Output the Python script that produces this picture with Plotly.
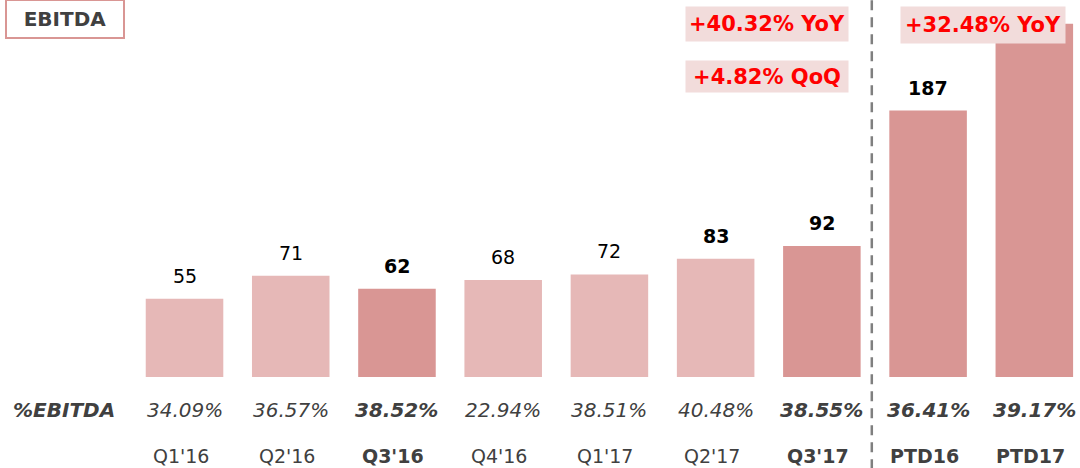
import plotly.graph_objects as go

# ---- data ----
categories = ["Q1'16", "Q2'16", "Q3'16", "Q4'16", "Q1'17", "Q2'17", "Q3'17", "PTD16", "PTD17"]
ebitda = [55, 71, 62, 68, 72, 83, 92, 187, 248]
margin_pct = ["34.09%", "36.57%", "38.52%", "22.94%", "38.51%", "40.48%", "38.55%", "36.41%", "39.17%"]
highlight = [False, False, True, False, False, False, True, True, True]
bold_value = [False, False, True, False, False, True, True, True, False]
show_value = [True, True, True, True, True, True, True, True, False]
growth_notes = ["+40.32% YoY", "+4.82% QoQ", "+32.48% YoY"]

LIGHT = "#E6B8B7"
DARK = "#D99694"
GRAY = "#404040"
FONT = "DejaVu Sans"

x_idx = list(range(len(categories)))

fig = go.Figure()
fig.add_trace(go.Bar(
    x=x_idx, y=ebitda,
    marker=dict(color=[DARK if h else LIGHT for h in highlight], line=dict(width=0)),
    width=0.73,
    hoverinfo="skip",
))

annotations = []
# value labels
for i, v in enumerate(ebitda):
    if not show_value[i]:
        continue
    annotations.append(dict(
        x=i, y=v, xref="x", yref="y", text=(f"<b>{v}</b>" if bold_value[i] else str(v)),
        showarrow=False, yanchor="bottom", yshift=10,
        font=dict(family=FONT, size=19, color="#000000"),
    ))
# percent row
for i, p in enumerate(margin_pct):
    annotations.append(dict(
        x=i, y=-0.0875, xref="x", yref="paper", text=(f"<b>{p}</b>" if highlight[i] else p),
        showarrow=False, yanchor="middle",
        font=dict(family=FONT, size=20, color=GRAY, style="italic"),
    ))
annotations.append(dict(
    x=64 / 1080, y=-0.0875, xref="paper", yref="paper", text="<b>%EBITDA</b>",
    showarrow=False, yanchor="middle", xanchor="center",
    font=dict(family=FONT, size=20, color=GRAY, style="italic"),
))
# category row
for i, c in enumerate(categories):
    annotations.append(dict(
        x=i, y=-0.2095, xref="x", yref="paper", text=(f"<b>{c}</b>" if highlight[i] else c),
        showarrow=False, yanchor="middle", xshift=-4,
        font=dict(family=FONT, size=19, color=GRAY),
    ))
# title box
annotations.append(dict(
    x=65 / 1080, y=(377 - 19) / 377, xref="paper", yref="paper", text="<b>EBITDA</b>",
    showarrow=False, xanchor="center", yanchor="middle",
    width=116, height=36, bordercolor=DARK, borderwidth=2, borderpad=0, bgcolor="white",
    font=dict(family=FONT, size=20, color=GRAY),
))
# growth notes
note_pos = [(767, 24, 162, 34), (767, 76.5, 162, 31), (983, 25, 164, 36)]
for t, (px, py, w, h) in zip(growth_notes, note_pos):
    annotations.append(dict(
        x=px / 1080, y=(377 - py) / 377, xref="paper", yref="paper", text=f"<b>{t}</b>",
        showarrow=False, xanchor="center", yanchor="middle",
        width=w, height=h, bgcolor="#F2DCDB", borderpad=0,
        font=dict(family=FONT, size=21, color="#FF0000"),
    ))

fig.add_shape(type="line", xref="x", yref="paper", x0=6.47, x1=6.47, y0=-0.245, y1=1.0,
              line=dict(color="#7F7F7F", width=2.5, dash="10px,7px"))

fig.update_layout(
    width=1080, height=468,
    margin=dict(l=0, r=0, t=0, b=91),
    paper_bgcolor="white", plot_bgcolor="white",
    showlegend=False,
    xaxis=dict(range=[-1.737, 8.43], visible=False),
    yaxis=dict(range=[0, 264.6], visible=False),
    annotations=annotations,
)

fig.write_html("out.html", config={"displayModeBar": False, "staticPlot": True},
               post_script="document.body.style.margin='0';document.body.style.overflow='hidden';")
